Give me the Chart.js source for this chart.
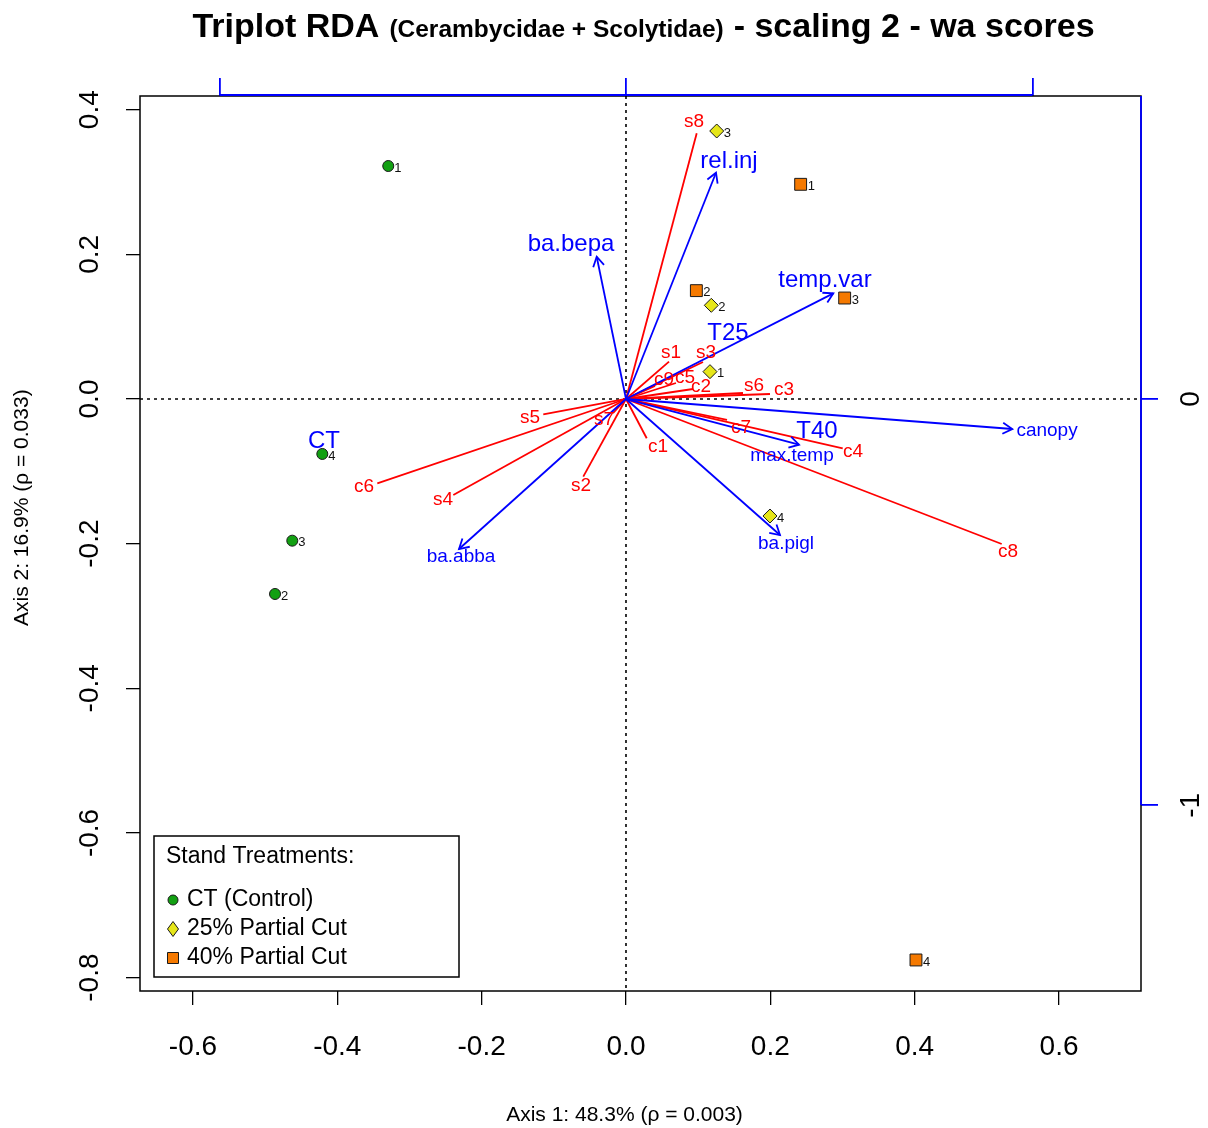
<!DOCTYPE html>
<html><head><meta charset="utf-8">
<script src="https://cdn.jsdelivr.net/npm/chart.js@4.4.0/dist/chart.umd.min.js"></script>
<style>html,body{margin:0;padding:0;background:#fff}#wrap{width:1208px;height:1128px;position:relative}</style>
</head><body><div id="wrap"><canvas id="c"></canvas></div>
<script>
// ---------------- data ----------------
const xRange = [-0.6734, 0.7136];
const yRange = [-0.8185, 0.4189];
const x2Range = [-1.1956, 1.2669];
const y2Range = [-1.457, 0.7458];
const xTicks = [-0.6, -0.4, -0.2, 0, 0.2, 0.4, 0.6];
const xTickLabels = ['-0.6', '-0.4', '-0.2', '0.0', '0.2', '0.4', '0.6'];
const yTicks = [0.4, 0.2, 0, -0.2, -0.4, -0.6, -0.8];
const yTickLabels = ['0.4', '0.2', '0.0', '-0.2', '-0.4', '-0.6', '-0.8'];
const x2Ticks = [-1, 0, 1];
const y2Ticks = [0, -1];
const y2TickLabels = ['0', '-1'];

const titleMain = 'Triplot RDA';
const titleSub = '(Cerambycidae + Scolytidae)';
const titleEnd = '- scaling 2 - wa scores';
const xTitle = 'Axis 1: 48.3% (\u03C1 = 0.003)';
const yTitle = 'Axis 2: 16.9% (\u03C1 = 0.033)';

const legendTitle = 'Stand Treatments:';
const siteGroups = ['CT (Control)', '25% Partial Cut', '40% Partial Cut'];
const siteIds = ['1', '2', '3', '4'];
const ctX = [-0.3294, -0.4863, -0.4624, -0.4208];
const ctY = [0.3221, -0.2696, -0.1959, -0.0760];
const t25X = [0.1164, 0.1182, 0.1257, 0.1995];
const t25Y = [0.0378, 0.1295, 0.3705, -0.1618];
const t40X = [0.2420, 0.0975, 0.3030, 0.4018];
const t40Y = [0.2968, 0.1498, 0.1396, -0.7756];

const speciesNames = ['s1','s2','s3','s4','s5','s6','s7','s8','c1','c2','c3','c4','c5','c6','c7','c8','c9'];
const speciesX = [0.0596,-0.0592,0.1067,-0.2393,-0.1146,0.1621,-0.0180,0.0980,0.0287,0.0928,0.1995,0.3003,0.0693,-0.3446,0.1400,0.5206,0.0402];
const speciesY = [0.0516,-0.1074,0.0512,-0.1327,-0.0212,0.0083,-0.0194,0.3673,-0.0543,0.0138,0.0069,-0.0682,0.0221,-0.1166,-0.0290,-0.2005,0.0180];
const speciesLabelX = [0.0624,-0.0624,0.1108,-0.2536,-0.1330,0.1774,-0.0305,0.0942,0.0443,0.1039,0.2189,0.3145,0.0818,-0.3630,0.1593,0.5293,0.0527];
const speciesLabelY = [0.0636,-0.1203,0.0636,-0.1396,-0.0263,0.0180,-0.0290,0.3830,-0.0664,0.0166,0.0124,-0.0733,0.0290,-0.1217,-0.0401,-0.2115,0.0263];

const envNames = ['rel.inj','ba.bepa','temp.var','canopy','max.temp','ba.pigl','ba.abba'];
const envX = [0.2214,-0.0721,0.5100,0.9503,0.4256,0.3788,-0.4108];
const envY = [0.5570,0.3502,0.2601,-0.0738,-0.1125,-0.3347,-0.3692];
const envLabelX = [0.2534,-0.1353,0.4895,1.0357,0.4084,0.3936,-0.4059];
const envLabelY = [0.5858,0.3815,0.2929,-0.0788,-0.1403,-0.3569,-0.3889];

const centroidNames = ['CT', 'T25', 'T40'];
const centroidX = [-0.4185, 0.1413, 0.2647];
const centroidY = [-0.0581, 0.0912, -0.0442];

// ---------------- styles ----------------
const FONT = '"Liberation Sans", Arial, Helvetica, sans-serif';
const RED = '#ff0000', BLUE = '#0000ff';
const GREEN = '#12a012', YELLOW = '#e6e619', ORANGE = '#f57900';
const bigEnv = new Set(['rel.inj', 'ba.bepa', 'temp.var']);

const pts = (xs, ys) => xs.map((v, i) => ({x: v, y: ys[i]}));

const datasets = [
  {label: siteGroups[0], data: pts(ctX, ctY), pointStyle: 'circle', pointRadius: 5.5, backgroundColor: GREEN, borderColor: '#1a1a1a', borderWidth: 1},
  {label: siteGroups[1], data: pts(t25X, t25Y), pointStyle: 'rectRot', pointRadius: 7, backgroundColor: YELLOW, borderColor: '#1a1a1a', borderWidth: 1},
  {label: siteGroups[2], data: pts(t40X, t40Y), pointStyle: 'rect', pointRadius: 8.4, backgroundColor: ORANGE, borderColor: '#1a1a1a', borderWidth: 1},
];
envNames.forEach((n, i) => datasets.push({
  label: n, data: [{x: 0, y: 0}, {x: envX[i], y: envY[i]}], xAxisID: 'x2', yAxisID: 'y2',
  showLine: true, borderColor: BLUE, borderWidth: 1.8, pointRadius: 0
}));
speciesNames.forEach((n, i) => datasets.push({
  label: n, data: [{x: 0, y: 0}, {x: speciesX[i], y: speciesY[i]}],
  showLine: true, borderColor: RED, borderWidth: 1.8, pointRadius: 0
}));

function setTicks(list) { return s => { s.ticks = list.map(v => ({value: v})); }; }

const triplot = {
  id: 'triplot',
  beforeDatasetsDraw(chart) {
    const {ctx, chartArea: a, scales: {x, y}} = chart;
    ctx.save();
    ctx.strokeStyle = '#000'; ctx.lineWidth = 1.6; ctx.setLineDash([3, 4]);
    const x0 = x.getPixelForValue(0), y0 = y.getPixelForValue(0);
    ctx.beginPath();
    ctx.moveTo(x0, a.top); ctx.lineTo(x0, a.bottom);
    ctx.moveTo(a.left, y0); ctx.lineTo(a.right, y0);
    ctx.stroke();
    ctx.restore();
  },
  afterDatasetsDraw(chart) {
    const {ctx, chartArea: a, scales: {x, y, x2, y2}} = chart;
    ctx.save();
    // arrowheads
    ctx.strokeStyle = BLUE; ctx.lineWidth = 1.8;
    const ox = x2.getPixelForValue(0), oy = y2.getPixelForValue(0);
    envNames.forEach((n, i) => {
      const tx = x2.getPixelForValue(envX[i]), ty = y2.getPixelForValue(envY[i]);
      const ang = Math.atan2(ty - oy, tx - ox), L = 11;
      ctx.beginPath();
      ctx.moveTo(tx - L * Math.cos(ang - Math.PI / 6), ty - L * Math.sin(ang - Math.PI / 6));
      ctx.lineTo(tx, ty);
      ctx.lineTo(tx - L * Math.cos(ang + Math.PI / 6), ty - L * Math.sin(ang + Math.PI / 6));
      ctx.stroke();
    });
    // species labels
    ctx.textAlign = 'center'; ctx.textBaseline = 'middle';
    ctx.fillStyle = RED; ctx.font = '19px ' + FONT;
    speciesNames.forEach((n, i) => ctx.fillText(n, x.getPixelForValue(speciesLabelX[i]), y.getPixelForValue(speciesLabelY[i])));
    // env labels
    ctx.fillStyle = BLUE;
    envNames.forEach((n, i) => {
      ctx.font = (bigEnv.has(n) ? '24px ' : '19px ') + FONT;
      ctx.fillText(n, x2.getPixelForValue(envLabelX[i]), y2.getPixelForValue(envLabelY[i]));
    });
    ctx.font = '24px ' + FONT;
    centroidNames.forEach((n, i) => ctx.fillText(n, x.getPixelForValue(centroidX[i]), y.getPixelForValue(centroidY[i])));
    // site numbers
    ctx.fillStyle = '#111'; ctx.font = '13px ' + FONT; ctx.textAlign = 'left';
    [[ctX, ctY, 6], [t25X, t25Y, 7], [t40X, t40Y, 7]].forEach(([xs, ys, off]) => {
      xs.forEach((v, i) => ctx.fillText(siteIds[i], x.getPixelForValue(v) + off, y.getPixelForValue(ys[i]) + 2));
    });
    ctx.restore();
  },
  afterDraw(chart) {
    const {ctx, chartArea: a, scales: {x, y, x2, y2}} = chart;
    ctx.save();
    // box
    ctx.strokeStyle = '#000'; ctx.lineWidth = 1.5;
    ctx.strokeRect(a.left, a.top, a.right - a.left, a.bottom - a.top);
    // blue secondary axis lines
    ctx.strokeStyle = BLUE; ctx.lineWidth = 1.8;
    ctx.beginPath();
    ctx.moveTo(x2.getPixelForValue(x2Ticks[0]), a.top - 1);
    ctx.lineTo(x2.getPixelForValue(x2Ticks[x2Ticks.length - 1]), a.top - 1);
    ctx.moveTo(a.right, y2.getPixelForValue(Math.min(...y2Ticks)));
    ctx.lineTo(a.right, a.top);
    ctx.stroke();
    // rotated tick labels on left and right
    ctx.fillStyle = '#000'; ctx.font = '28px ' + FONT;
    ctx.textAlign = 'center'; ctx.textBaseline = 'middle';
    yTicks.forEach((v, i) => {
      ctx.save(); ctx.translate(a.left - 50, y.getPixelForValue(v)); ctx.rotate(-Math.PI / 2);
      ctx.fillText(yTickLabels[i], 0, 0); ctx.restore();
    });
    y2Ticks.forEach((v, i) => {
      ctx.save(); ctx.translate(a.right + 50, y2.getPixelForValue(v)); ctx.rotate(-Math.PI / 2);
      ctx.fillText(y2TickLabels[i], 0, 0); ctx.restore();
    });
    // axis titles
    ctx.font = '21px ' + FONT;
    ctx.fillText(xTitle, a.left + (a.right - a.left) * 0.484, 1115);
    ctx.save(); ctx.translate(22, a.top + (a.bottom - a.top) * 0.46); ctx.rotate(-Math.PI / 2);
    ctx.fillText(yTitle, 0, 0); ctx.restore();
    // title
    const parts = [[titleMain, 34], [titleSub, 24.5], [titleEnd, 34]];
    const gap = 10;
    let total = 0;
    parts.forEach(([t, s]) => { ctx.font = 'bold ' + s + 'px ' + FONT; total += ctx.measureText(t).width; });
    total += gap * (parts.length - 1);
    let tx = (a.left + a.right) / 2 + 3 - total / 2;
    ctx.textAlign = 'left'; ctx.textBaseline = 'alphabetic';
    parts.forEach(([t, s]) => { ctx.font = 'bold ' + s + 'px ' + FONT; ctx.fillText(t, tx, 37); tx += ctx.measureText(t).width + gap; });
    // legend
    const lx = a.left + 14, ly = a.bottom - 155, lw = 305, lh = 141;
    ctx.fillStyle = '#fff'; ctx.fillRect(lx, ly, lw, lh);
    ctx.strokeStyle = '#000'; ctx.lineWidth = 1.5; ctx.strokeRect(lx, ly, lw, lh);
    ctx.fillStyle = '#000'; ctx.font = '23px ' + FONT; ctx.textBaseline = 'middle';
    ctx.fillText(legendTitle, lx + 12, ly + 21);
    const cols = [GREEN, YELLOW, ORANGE];
    siteGroups.forEach((g, i) => {
      const cy = ly + 64 + i * 29, cx = lx + 19;
      ctx.fillStyle = cols[i]; ctx.strokeStyle = '#1a1a1a'; ctx.lineWidth = 1;
      ctx.beginPath();
      if (i === 0) ctx.arc(cx, cy, 5, 0, Math.PI * 2);
      else if (i === 1) { ctx.moveTo(cx - 5.5, cy); ctx.lineTo(cx, cy - 7.5); ctx.lineTo(cx + 5.5, cy); ctx.lineTo(cx, cy + 7.5); ctx.closePath(); }
      else ctx.rect(cx - 5.5, cy - 5.5, 11, 11);
      ctx.fill(); ctx.stroke();
      ctx.fillStyle = '#000'; ctx.font = '23px ' + FONT;
      ctx.fillText(g, lx + 33, cy);
    });
    ctx.restore();
  }
};

new Chart(document.getElementById('c'), {
  type: 'scatter',
  data: {datasets},
  options: {
    responsive: true, maintainAspectRatio: false, animation: false,
    layout: {padding: 0},
    plugins: {legend: {display: false}, tooltip: {enabled: false}, title: {display: false}},
    scales: {
      x: {
        type: 'linear', position: 'bottom', min: xRange[0], max: xRange[1],
        afterBuildTicks: setTicks(xTicks),
        afterFit: s => { s.height = 137; },
        grid: {drawOnChartArea: false, drawTicks: true, tickLength: 14, color: '#000', lineWidth: 1.3},
        border: {display: false},
        ticks: {autoSkip: false, maxRotation: 0, padding: 25, color: '#000', font: {size: 28, family: FONT},
                callback: (v, i) => xTickLabels[i]}
      },
      y: {
        type: 'linear', position: 'left', min: yRange[0], max: yRange[1],
        afterBuildTicks: setTicks(yTicks),
        afterFit: s => { s.width = 140; },
        grid: {drawOnChartArea: false, drawTicks: true, tickLength: 14, color: '#000', lineWidth: 1.3},
        border: {display: false},
        ticks: {display: false, autoSkip: false}
      },
      x2: {
        type: 'linear', position: 'top', min: x2Range[0], max: x2Range[1],
        afterBuildTicks: setTicks(x2Ticks),
        afterFit: s => { s.height = 96; },
        grid: {drawOnChartArea: false, drawTicks: true, tickLength: 18, color: BLUE, lineWidth: 1.8},
        border: {display: false},
        ticks: {display: false, autoSkip: false}
      },
      y2: {
        type: 'linear', position: 'right', min: y2Range[0], max: y2Range[1],
        afterBuildTicks: setTicks(y2Ticks),
        afterFit: s => { s.width = 67; },
        grid: {drawOnChartArea: false, drawTicks: true, tickLength: 17, color: BLUE, lineWidth: 1.8},
        border: {display: false},
        ticks: {display: false, autoSkip: false}
      }
    }
  },
  plugins: [triplot]
});
</script>
</body></html>
